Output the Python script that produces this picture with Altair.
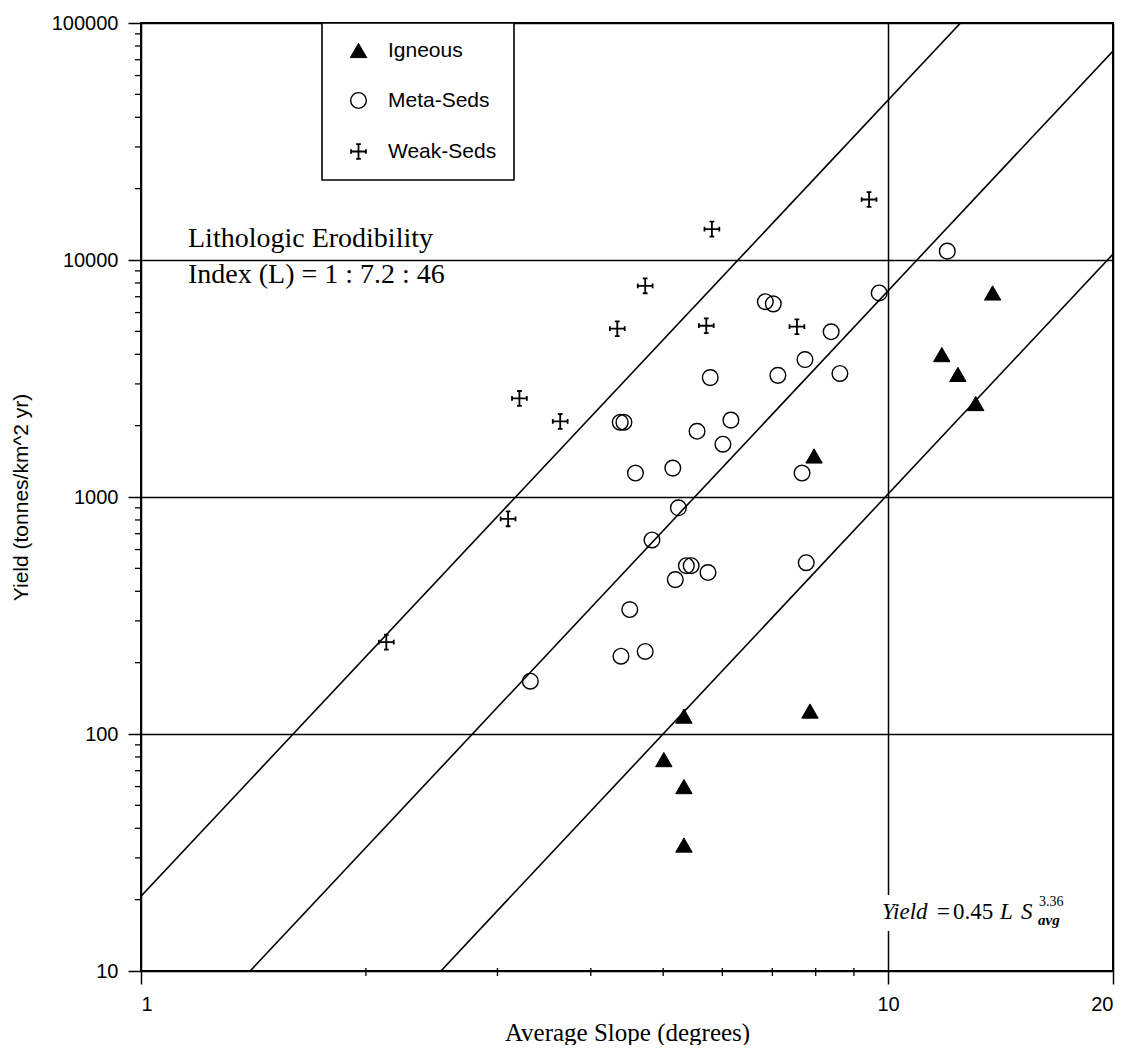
import altair as alt
import pandas as pd

# ---------------- data ----------------
types = ["Igneous", "Meta-Seds", "Weak-Seds"]

ign_slope = [5.01, 5.33, 5.33, 5.33, 7.86, 7.96, 11.8, 12.4, 13.1, 13.8]
ign_yield = [78, 119, 60, 34, 125, 1490, 3990, 3290, 2480, 7260]

meta_slope = [3.32, 4.39, 4.73, 4.51, 4.83, 5.19, 5.37, 5.45, 5.74, 5.24, 5.15,
              4.59, 4.38, 4.43, 5.55, 6.01, 6.16, 5.78, 7.12, 6.85, 7.02, 7.74,
              8.39, 8.62, 7.67, 7.77, 9.73, 12.0]
meta_yield = [167, 213, 223, 335, 659, 448, 513, 513, 480, 900, 1324,
              1262, 2066, 2066, 1893, 1670, 2110, 3190, 3260, 6670, 6530, 3800,
              4980, 3320, 1262, 528, 7260, 10900]

weak_slope = [2.13, 3.10, 3.21, 3.64, 4.34, 4.73, 5.81, 5.71, 7.55, 9.43]
weak_yield = [244, 809, 2606, 2084, 5130, 7780, 13500, 5280, 5230, 18000]

# fitted lines Yield = 0.45 L S^3.36, end points inside the frame
line_L = ["46", "46", "7.2", "7.2", "1", "1"]
line_slope = [1.0, 12.5, 1.40, 20.0, 2.52, 20.0]
line_yield = [20.7, 100000, 10, 76200, 10, 10590]

x_major = [1, 10, 20]
x_minor = [2, 3, 4, 5, 6, 7, 8, 9]
y_major = [10, 100, 1000, 10000, 100000]
y_minor = [m * d for d in [10, 100, 1000, 10000] for m in range(2, 10)]

# ---------------- frames ----------------
pts = pd.DataFrame({
    "slope": ign_slope + meta_slope + weak_slope,
    "yield": ign_yield + meta_yield + weak_yield,
    "type": [types[0]] * len(ign_slope) + [types[1]] * len(meta_slope) + [types[2]] * len(weak_slope),
})
lines = pd.DataFrame({"L": line_L, "slope": line_slope, "yield": line_yield})
xmin_df = pd.DataFrame({"v": x_minor})
ymin_df = pd.DataFrame({"v": y_minor})

W, H = 972, 948
xs = alt.Scale(type="log", domain=[1, 20], nice=False)
ys = alt.Scale(type="log", domain=[10, 100000], nice=False)

SANS = "Liberation Sans"
SERIF = "Liberation Serif"

xaxis = alt.Axis(values=x_major, format="d", grid=True, gridColor="black", gridWidth=1.5,
                 gridOpacity=1, tickColor="black", tickSize=13, tickWidth=1.5, domain=False,
                 labelFont=SANS, labelFontSize=20, labelColor="black", labelPadding=10,
                 title="Average Slope (degrees)", titleFont=SERIF, titleFontSize=25,
                 titleFontWeight="normal", titleColor="black", titlePadding=6)
yaxis = alt.Axis(values=y_major, format="d", grid=True, gridColor="black", gridWidth=1.5,
                 gridOpacity=1, tickColor="black", tickSize=13, tickWidth=1.5, domain=False,
                 labelFont=SANS, labelFontSize=20, labelColor="black", labelPadding=10,
                 title="Yield (tonnes/km^2 yr)", titleFont=SANS, titleFontSize=21,
                 titleFontWeight="normal", titleColor="black", titlePadding=20)

cross_path = ("M-1,0L1,0M0,-1L0,1M-1,-0.32L-1,0.32M1,-0.32L1,0.32"
              "M-0.32,1L0.32,1M-0.32,-1L0.32,-1")

leg = alt.Legend(orient="none", legendX=181, legendY=0, padding=17, rowPadding=28,
                 strokeColor="black", fillColor="white", labelFont=SANS, labelFontSize=21,
                 labelColor="black", labelOffset=19, symbolOffset=9)

lines_layer = alt.Chart(lines).mark_line(color="black", strokeWidth=1.6, clip=True).encode(
    x=alt.X("slope:Q", scale=xs, axis=xaxis),
    y=alt.Y("yield:Q", scale=ys, axis=yaxis),
    detail="L:N",
)

pts_layer = alt.Chart(pts).mark_point(filled=True, opacity=1).encode(
    x=alt.X("slope:Q", scale=xs),
    y=alt.Y("yield:Q", scale=ys),
    shape=alt.Shape("type:N", title=None, legend=leg,
                    scale=alt.Scale(domain=types, range=["triangle-up", "circle", cross_path])),
    fill=alt.Fill("type:N", title=None, legend=leg,
                  scale=alt.Scale(domain=types, range=["black", "transparent", "transparent"])),
    stroke=alt.Stroke("type:N", title=None, legend=leg,
                      scale=alt.Scale(domain=types, range=["black", "black", "black"])),
    size=alt.Size("type:N", title=None, legend=leg,
                  scale=alt.Scale(domain=types, range=[270, 220, 440])),
    strokeWidth=alt.StrokeWidth("type:N", title=None, legend=leg,
                                scale=alt.Scale(domain=types, range=[1, 1.8, 3.4])),
)

xminor_layer = alt.Chart(xmin_df).mark_rule(color="black", strokeWidth=1.3).encode(
    x=alt.X("v:Q", scale=xs), y=alt.value(H - 3), y2=alt.value(H + 5))
yminor_layer = alt.Chart(ymin_df).mark_rule(color="black", strokeWidth=1.3).encode(
    y=alt.Y("v:Q", scale=ys), x=alt.value(-6), x2=alt.value(1))

one = pd.DataFrame({"a": [0]})


def txt(s, x, y, size, font=SERIF, style="normal", weight="normal", align="left"):
    return alt.Chart(one).mark_text(text=s, font=font, fontSize=size, fontStyle=style,
                                    fontWeight=weight, align=align, baseline="alphabetic",
                                    color="black").encode(x=alt.value(x), y=alt.value(y))


litho = txt("Lithologic Erodibility", 47, 224, 28) + txt("Index (L) = 1 : 7.2 : 46", 47, 260, 28)

x0, yb = 741, 896
eq_bg = alt.Chart(one).mark_rect(color="white").encode(
    x=alt.value(x0 - 4), x2=alt.value(x0 + 190), y=alt.value(yb - 24), y2=alt.value(yb + 12))
eq = (eq_bg
      + txt("Yield", x0, yb, 23, style="italic")
      + txt("=", x0 + 55, yb, 23)
      + txt("0.45", x0 + 71, yb, 23)
      + txt("L", x0 + 118, yb, 23, style="italic")
      + txt("S", x0 + 139, yb, 23, style="italic")
      + txt("3.36", x0 + 157, yb - 13, 14)
      + txt("avg", x0 + 156, yb + 6, 15, style="italic", weight="bold"))

chart = alt.layer(
    lines_layer, xminor_layer, yminor_layer, litho, eq, pts_layer
).properties(
    width=W, height=H,
    padding={"left": 133, "top": 15, "right": 9, "bottom": 74},
    autosize=alt.AutoSizeParams(type="none"),
).configure_view(stroke="black", strokeWidth=2).configure_legend(strokeWidth=1.6)

chart.save("out.html", embed_options={"renderer": "svg", "actions": False})
